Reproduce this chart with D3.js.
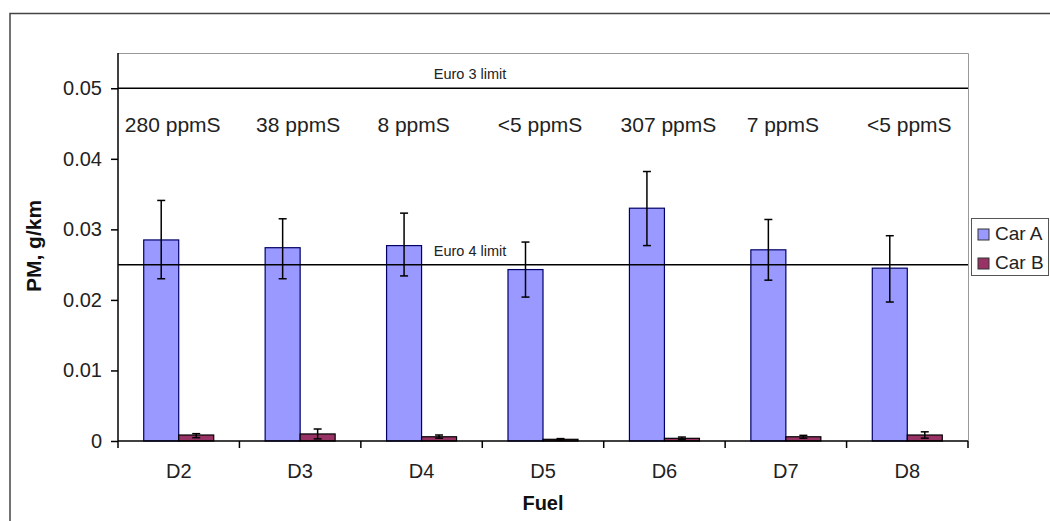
<!DOCTYPE html>
<html lang="en">
<head>
<meta charset="UTF-8">
<title>PM emissions by fuel</title>
<script src="https://cdn.jsdelivr.net/npm/d3@7"></script>
<style>
  body { margin: 0; background: #fff; }
  text { font-family: "Liberation Sans", Arial, sans-serif; }
</style>
</head>
<body>
<script>
    // fuels and sulphur content
    const fuels = ['D2', 'D3', 'D4', 'D5', 'D6', 'D7', 'D8'];
    const sulphur = ['280 ppmS', '38 ppmS', '8 ppmS', '<5 ppmS', '307 ppmS', '7 ppmS', '<5 ppmS'];
    const series = ['Car A', 'Car B'];

    // PM, g/km
    const carA = [0.0285, 0.0274, 0.0277, 0.0243, 0.0330, 0.0271, 0.0245];
    const carALow = [0.0230, 0.0230, 0.0234, 0.0204, 0.0277, 0.0228, 0.0197];
    const carAHigh = [0.0341, 0.0315, 0.0323, 0.0282, 0.0382, 0.0314, 0.0291];
    const carB = [0.00085, 0.0010, 0.0006, 0.00024, 0.00038, 0.0006, 0.00085];
    const carBLow = [0.00047, 0.0003, 0.0004, 0.00014, 0.0002, 0.0004, 0.0004];
    const carBHigh = [0.00104, 0.0017, 0.00085, 0.00034, 0.00056, 0.0008, 0.0013];

    const yTicks = [0, 0.01, 0.02, 0.03, 0.04, 0.05];
    const limits = [{ label: 'Euro 3 limit', value: 0.05 }, { label: 'Euro 4 limit', value: 0.025 }];

    const w = 1050, h = 521;
    const pL = 118, pR = 968, pT = 53, pB = 441;
    const colors = ['#9999ff', '#993366'];
    const strokes = ['#000066', '#000000'];

    const svg = d3.select('body').append('svg')
        .attr('width', w)
        .attr('height', h);

    // outer frame (only top and left edges show)
    svg.append('path')
        .attr('d', `M10,${h} L10,13.5 L${w},13.5`)
        .attr('fill', 'none')
        .attr('stroke', '#444')
        .attr('stroke-width', 1.5);

    const x = d3.scaleBand()
        .domain(fuels)
        .range([pL, pR]);

    const inner = d3.scaleBand()
        .domain(series)
        .range([0, 70]);

    const y = d3.scaleLinear()
        .domain([0, 0.055])
        .range([pB, pT]);

    // plot border, top and right in grey
    svg.append('path')
        .attr('d', `M${pL},${pT + 0.5} L${pR + 0.5},${pT + 0.5} L${pR + 0.5},${pB}`)
        .attr('fill', 'none')
        .attr('stroke', '#999')
        .attr('stroke-width', 1);

    const rows = fuels.map((f, i) => [
        { fuel: f, s: 0, v: carA[i], lo: carALow[i], hi: carAHigh[i] },
        { fuel: f, s: 1, v: carB[i], lo: carBLow[i], hi: carBHigh[i] }
    ]).flat();

    const offset = (x.bandwidth() - 70) / 2;

    svg.selectAll('rect.bar')
        .data(rows)
        .enter()
        .append('rect')
        .attr('class', 'bar')
        .attr('x', d => x(d.fuel) + offset + inner(series[d.s]))
        .attr('y', d => y(d.v))
        .attr('width', inner.bandwidth())
        .attr('height', d => y(0) - y(d.v))
        .attr('fill', d => colors[d.s])
        .attr('stroke', d => strokes[d.s])
        .attr('stroke-width', 1.2);

    // error bars
    const err = svg.append('g').attr('stroke', '#000').attr('stroke-width', 1.5);
    rows.forEach(d => {
        const cx = x(d.fuel) + offset + inner(series[d.s]) + inner.bandwidth() / 2;
        err.append('line')
            .attr('x1', cx).attr('x2', cx)
            .attr('y1', y(d.lo)).attr('y2', y(d.hi));
        [d.lo, d.hi].forEach(v => {
            err.append('line')
                .attr('x1', cx - 4).attr('x2', cx + 4)
                .attr('y1', y(v)).attr('y2', y(v));
        });
    });

    // limit lines
    limits.forEach(l => {
        svg.append('line')
            .attr('x1', pL).attr('x2', pR)
            .attr('y1', y(l.value)).attr('y2', y(l.value))
            .attr('stroke', '#000')
            .attr('stroke-width', 1.5);
        svg.append('text')
            .attr('x', 470)
            .attr('y', y(l.value) - 9)
            .attr('text-anchor', 'middle')
            .attr('font-size', '14.5px')
            .attr('fill', '#222')
            .text(l.label);
    });

    // sulphur labels
    const ppmShift = [-6, -2, -8, -3, 4, -3, 2];
    svg.selectAll('text.ppm')
        .data(fuels)
        .enter()
        .append('text')
        .attr('class', 'ppm')
        .attr('x', (d, i) => x(d) + x.bandwidth() / 2 + ppmShift[i])
        .attr('y', 132)
        .attr('text-anchor', 'middle')
        .attr('font-size', '21px')
        .attr('fill', '#222')
        .text((d, i) => sulphur[i]);

    // axes
    const yAxis = svg.append('g')
        .attr('transform', `translate(${pL},0)`)
        .call(d3.axisLeft(y).tickValues(yTicks).tickSize(7).tickPadding(9).tickFormat(d => d === 0 ? '0' : d3.format('.2f')(d)));
    yAxis.select('.domain').remove();
    yAxis.append('line')
        .attr('x1', 0).attr('x2', 0)
        .attr('y1', pT).attr('y2', pB)
        .attr('stroke', '#000')
        .attr('stroke-width', 1.5);

    const xAxis = svg.append('g')
        .attr('transform', `translate(0,${pB})`)
        .call(d3.axisBottom(x).tickSize(0).tickPadding(23));
    xAxis.select('.domain').remove();
    xAxis.append('line')
        .attr('x1', pL).attr('x2', pR)
        .attr('stroke', '#000')
        .attr('stroke-width', 1.5);
    // tick marks between categories
    xAxis.selectAll('line.sep')
        .data(d3.range(fuels.length + 1))
        .enter()
        .append('line')
        .attr('class', 'sep')
        .attr('x1', i => pL + i * x.step())
        .attr('x2', i => pL + i * x.step())
        .attr('y1', 0).attr('y2', 7)
        .attr('stroke', '#000')
        .attr('stroke-width', 1.5);

    svg.selectAll('.tick text')
        .attr('font-size', '20px')
        .attr('fill', '#222')
        .attr('font-family', '"Liberation Sans", Arial, sans-serif');
    yAxis.selectAll('.tick line').attr('stroke-width', 1.5);

    // axis titles
    svg.append('text')
        .attr('x', 543)
        .attr('y', 510)
        .attr('text-anchor', 'middle')
        .attr('font-size', '20px')
        .attr('font-weight', 'bold')
        .attr('fill', '#111')
        .text('Fuel');
    svg.append('text')
        .attr('transform', 'translate(41,246) rotate(-90)')
        .attr('text-anchor', 'middle')
        .attr('font-size', '21px')
        .attr('font-weight', 'bold')
        .attr('fill', '#111')
        .text('PM, g/km');

    // legend
    const legend = svg.append('g').attr('transform', 'translate(971,218)');
    legend.append('rect')
        .attr('x', 0.5).attr('y', 0.5)
        .attr('width', 77).attr('height', 57)
        .attr('fill', '#fff')
        .attr('stroke', '#555')
        .attr('stroke-width', 1);
    series.forEach((s, i) => {
        legend.append('rect')
            .attr('x', 7).attr('y', 11 + i * 29)
            .attr('width', 11).attr('height', 11)
            .attr('fill', colors[i])
            .attr('stroke', '#333')
            .attr('stroke-width', 1);
        legend.append('text')
            .attr('x', 24).attr('y', 22 + i * 29)
            .attr('font-size', '19px')
            .attr('fill', '#222')
            .text(s);
    });
</script>
</body>
</html>
